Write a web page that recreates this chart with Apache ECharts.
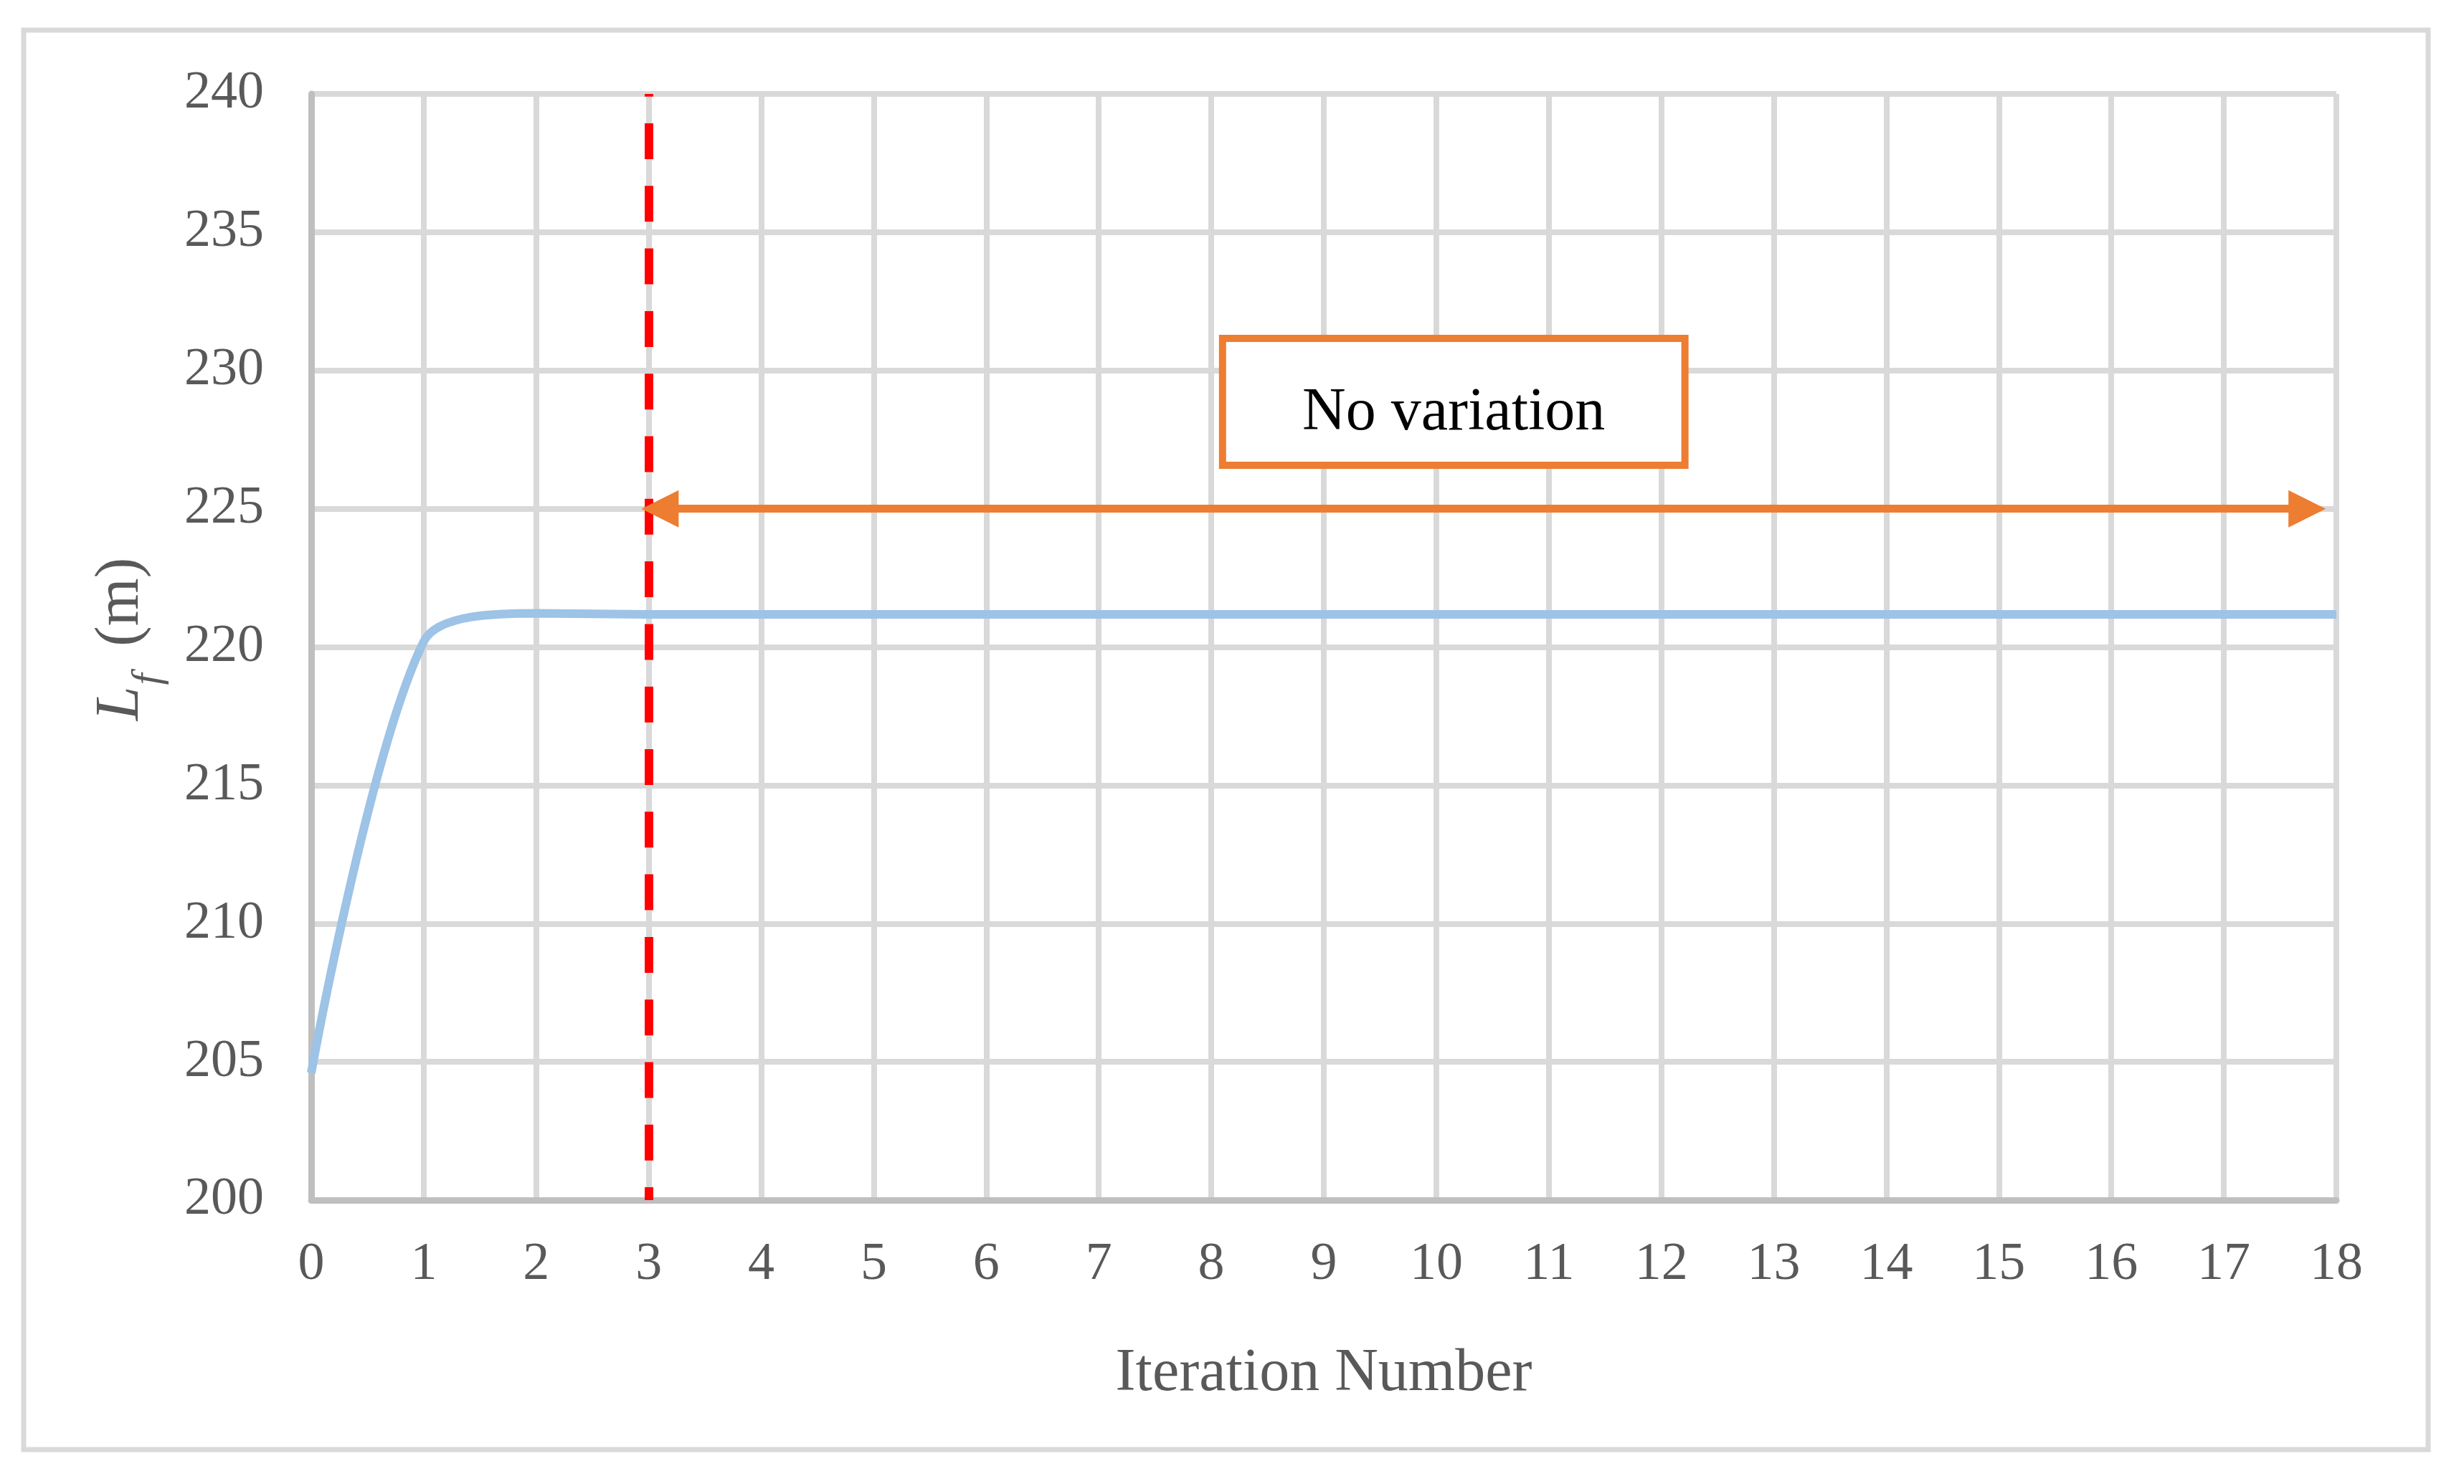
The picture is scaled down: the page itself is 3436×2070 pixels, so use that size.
<!DOCTYPE html>
<html>
<head>
<meta charset="utf-8">
<script src="https://cdn.jsdelivr.net/npm/echarts@6/dist/echarts.min.js"></script>
<style>
html,body{margin:0;padding:0;background:#fff;}
#chart{width:3436px;height:2070px;}
</style>
</head>
<body>
<div id="chart"></div>
<script>
// ---- data ----
const iterations = [0,1,2,3,4,5,6,7,8,9,10,11,12,13,14,15,16,17,18];
const lfValues = [204.6,220.2,221.22,221.18,221.18,221.18,221.18,221.18,221.18,221.18,221.18,221.18,221.18,221.18,221.18,221.18,221.18,221.18,221.18];
const yTicks = [200,205,210,215,220,225,230,235,240];
const xTitle = 'Iteration Number';
const boxText = 'No variation';
const convergeIter = 3;          // red dashed line position
const arrowY = 225;              // "no variation" arrow level
const arrowFrom = 3.10, arrowTo = 17.74;
const boxX = [8.10, 12.21];
const boxY = [226.57, 231.16];

const FONT = 'Liberation Serif';
const chart = echarts.init(document.getElementById('chart'), null, {renderer:'canvas'});
const seriesData = iterations.map((it, i) => [it, lfValues[i]]);

chart.setOption({
  animation: false,
  backgroundColor: '#ffffff',
  grid: {left: 434, right: 178, top: 131, bottom: 396, containLabel: false},
  graphic: [{
    type: 'rect', silent: true, z: -10,
    shape: {x: 33, y: 42, width: 3353, height: 1980},
    style: {fill: '#fff', stroke: '#d9d9d9', lineWidth: 7}
  }],
  xAxis: {
    type: 'value', min: 0, max: 18, interval: 1,
    name: xTitle, nameLocation: 'middle', nameGap: 201,
    nameTextStyle: {fontFamily: FONT, fontSize: 84, color: '#595959'},
    axisLine: {show: true, onZero: false, lineStyle: {color: '#bfbfbf', width: 9}},
    axisTick: {show: false},
    axisLabel: {fontFamily: FONT, fontSize: 74, color: '#595959', margin: 54},
    splitLine: {show: true, lineStyle: {color: '#d9d9d9', width: 8}}
  },
  yAxis: {
    type: 'value', min: yTicks[0], max: yTicks[yTicks.length-1], interval: 5,
    name: '{it|L}{sub|f}{n| (m)}', nameLocation: 'middle', nameGap: 215, nameRotate: 90,
    nameTextStyle: {
      fontFamily: FONT, fontSize: 80, color: '#595959',
      rich: {
        it: {fontFamily: FONT, fontStyle: 'italic', fontSize: 86, color: '#595959', lineHeight: 100, padding: [0,0,0,22]},
        sub: {fontFamily: FONT, fontStyle: 'italic', fontSize: 58, color: '#595959', lineHeight: 100, padding: [60,0,0,2], verticalAlign: 'top'},
        n: {fontFamily: FONT, fontSize: 86, color: '#595959', lineHeight: 100, padding: [0,0,0,16]}
      }
    },
    axisLine: {show: true, lineStyle: {color: '#bfbfbf', width: 9}},
    axisTick: {show: false},
    axisLabel: {fontFamily: FONT, fontSize: 74, color: '#595959', margin: 66},
    splitLine: {show: true, lineStyle: {color: '#d9d9d9', width: 8}}
  },
  series: [{
    type: 'line',
    data: seriesData,
    smooth: 0.3,
    showSymbol: false,
    symbol: 'none',
    lineStyle: {color: '#9dc3e6', width: 12},
    z: 3,
    markArea: {
      silent: true,
      itemStyle: {color: '#ffffff', borderColor: '#ed7d31', borderWidth: 10},
      label: {show: true, position: 'inside', offset: [0, 16], fontFamily: FONT, fontSize: 84, color: '#000000'},
      data: [[{name: boxText, coord: [boxX[0], boxY[1]]}, {coord: [boxX[1], boxY[0]]}]]
    },
    markLine: {
      silent: true,
      label: {show: false},
      data: [
        [{coord: [convergeIter, 240], symbol: 'none',
          lineStyle: {color: '#ff0000', width: 12, type: [50, 37.3], dashOffset: 46.3}},
         {coord: [convergeIter, 200], symbol: 'none'}],
        [{coord: [arrowFrom, arrowY], symbol: 'triangle', symbolSize: [52, 52],
          lineStyle: {color: '#ed7d31', width: 11, type: 'solid'}, itemStyle: {color: '#ed7d31'}},
         {coord: [arrowTo, arrowY], symbol: 'triangle', symbolSize: [52, 52], itemStyle: {color: '#ed7d31'}}]
      ]
    }
  }]
});
</script>
</body>
</html>
